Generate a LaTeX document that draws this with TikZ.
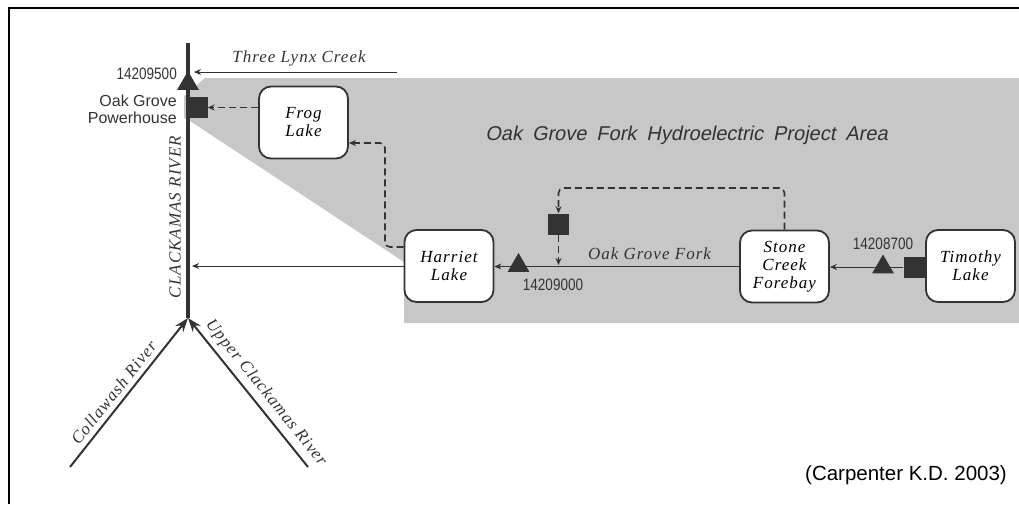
\documentclass[tikz,border=0pt]{standalone}
\usepackage{fontspec}
\setmainfont{Liberation Serif}
\newfontfamily\lakefont[LetterSpace=6]{Liberation Serif}
\newfontfamily\gaugefont[FakeStretch=0.82]{Liberation Sans}
\newfontfamily\areafont[FakeSlant=0.2,WordSpace=1.8]{Liberation Sans}
\newfontfamily\creditfont{Liberation Sans}
\usetikzlibrary{shapes.geometric, arrows.meta, positioning, calc}
\definecolor{ink}{gray}{0.2}
\definecolor{areagray}{gray}{0.78}

\begin{document}
\begin{tikzpicture}[x=1pt, y=-1pt,
    % --- Global Styles ---
    lake/.style={draw=ink, line width=1.8pt, rounded corners=12pt, fill=white, minimum width=89pt, minimum height=72pt, inner sep=0pt, align=center, font=\lakefont\itshape\fontsize{17}{18}\selectfont},
    dam/.style={rectangle, fill=ink, minimum size=21pt, inner sep=0pt},
    gauge/.style={regular polygon, regular polygon sides=3, fill=ink, minimum size=25pt, inner sep=0pt},
    num/.style={font=\gaugefont\fontsize{16.5}{17}\selectfont, text=ink, inner sep=0pt},
    stream/.style={font=\lakefont\itshape\fontsize{17}{18}\selectfont, text=ink, inner sep=2pt},
    areatitle/.style={font=\areafont\fontsize{20}{22}\selectfont, text=ink},
    credit/.style={font=\creditfont\fontsize{20.5}{22}\selectfont},
    river/.style={draw=ink, line width=4pt},
    inflow/.style={draw=ink, line width=2pt, -{Stealth[length=14pt, width=10pt]}},
    flow/.style={draw=ink, line width=1pt, -{Stealth[length=7pt, width=6pt]}},
    pipe/.style={draw=ink, line width=1.6pt, dash pattern=on 7pt off 4pt, rounded corners=5pt, -{Stealth[length=7pt, width=6pt]}}
]
    \useasboundingbox (0,0) rectangle (1019,504);

    % --- Frame & project area ---
    \draw[line width=1.5pt] (9,504) -- (9,8) -- (1019,8);
    \fill[areagray] (184,118) -- (184,96) -- (205,78) -- (1019,78) -- (1019,323) -- (404,323) -- (404,262) -- (190,121) -- cycle;

    % --- River points ---
    \coordinate (rtop) at (188,43);
    \coordinate (rjunc) at (188,318);
    \coordinate (colla) at (70,467);
    \coordinate (upper) at (308,467);
    \coordinate (lynx) at (397,72);

    % --- Lakes ---
    \node[lake] (frog) at (303.5,122.5) {Frog\\Lake};
    \node[lake] (harriet) at (449,266) {Harriet\\Lake};
    \node[lake] (stone) at (784.5,266.5) {Stone\\Creek\\Forebay};
    \node[lake] (timothy) at (970.5,266) {Timothy\\Lake};

    % --- Dams and gauges ---
    \node[dam] (ph) at (197,107.5) {};
    \node[dam] (div) at (558.5,224) {};
    \node[dam] (tdam) at (914,267) {};
    \node[gauge] (g1) at (188,83.5) {};
    \node[gauge] (g2) at (518.5,265.5) {};
    \node[gauge] (g3) at (883,267) {};

    % --- Labels ---
    \node[num, anchor=east] (g1lab) at (177,74) {14209500};
    \node[num, font=\creditfont\fontsize{16}{17}\selectfont, anchor=east, align=right] (phlab) at (177,109.5) {Oak Grove\\Powerhouse};
    \node[num] (g2lab) at (553,285) {14209000};
    \node[num] (g3lab) at (883,244) {14208700};
    \node[stream] (lynxlab) at (299,58) {Three Lynx Creek};
    \node[stream] (forklab) at (649.5,254) {Oak Grove Fork};
    \node[stream, rotate=90] (clacklab) at (175,217) {CLACKAMAS RIVER};
    \node[areatitle] (area) at (686.5,135) {Oak Grove Fork Hydroelectric Project Area};
    \node[credit] (src) at (906,475) {(Carpenter K.D. 2003)};

    % --- Main stem and tributaries ---
    \draw[river] (rtop) -- (rjunc);
    \draw[inflow] (colla) -- node[stream, sloped, above=3pt, pos=0.45] {Collawash River} (rjunc);
    \draw[inflow] (upper) -- node[stream, sloped, above=3pt, pos=0.44] {Upper Clackamas River} (rjunc);

    % --- Flows ---
    \draw[flow, shorten >=6pt] (lynx) -- (lynx -| rtop);
    \draw[flow, shorten >=4pt] (harriet.west) -- (harriet.west -| rtop);
    \draw[flow] (stone.west) -- (stone.west -| harriet.east);
    \draw[flow] (tdam.west) -- (tdam.west -| stone.east);

    % --- Diversion pipes ---
    \coordinate (hbend) at (385,143);
    \coordinate (sbend) at (558.5,188);
    \draw[pipe] (frog.west |- ph) -- (ph.east);
    \draw[pipe] ([yshift=19pt]harriet.west) -| (hbend) -- (hbend -| frog.east);
    \draw[pipe] (stone.north) |- (sbend) -- (div.north);
    \draw[pipe, shorten >=1pt] (div.south) -- (div.south |- harriet.east);

\end{tikzpicture}
\end{document}
